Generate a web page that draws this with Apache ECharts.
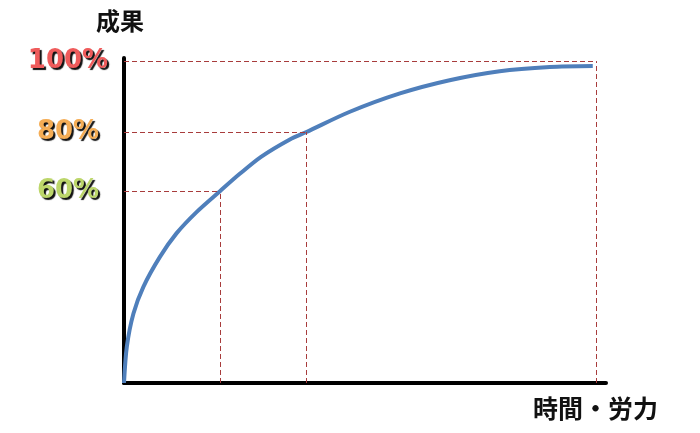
<!DOCTYPE html>
<html>
<head>
<meta charset="utf-8">
<script src="https://cdn.jsdelivr.net/npm/echarts@6/dist/echarts.min.js"></script>
<style>
  html, body { margin: 0; padding: 0; background: #fff; }
  #main { width: 700px; height: 433px; }
</style>
</head>
<body>
<div id="main"></div>
<script>
// curve (x: effort 0-100, y: result 0-100)
var curveX = [0, 0.6, 2, 4.1, 7.6, 11.1, 15.4, 20.3, 24.5, 29, 35.1, 38.6, 47.8, 58.4, 68.9, 79.5, 90.1, 99.2];
var curveY = [0, 11.3, 21.6, 29.9, 39.2, 46.5, 53.2, 59.6, 65, 70.3, 75.7, 78, 84.3, 90, 94.1, 96.9, 98.2, 98.5];

// dashed guides: where each level meets the curve
var guideX = [20.3, 38.6, 100];
var guideY = [59.6, 78, 100];
var tickLabels = ['60%', '80%', '100%'];
var tickColors = ['#bcd66a', '#f5ad55', '#ef5b5b'];

var myChart = echarts.init(document.getElementById('main'));

var points = [];
for (var i = 0; i < curveX.length; i++) {
  points.push([curveX[i], curveY[i]]);
}

var guides = [];
for (var j = 0; j < guideX.length; j++) {
  guides.push([{ coord: [0, guideY[j]] }, { coord: [guideX[j], guideY[j]] }]);
  guides.push([{ coord: [guideX[j], 0] }, { coord: [guideX[j], guideY[j]] }]);
}

var rich = {};
for (var k = 0; k < tickLabels.length; k++) {
  rich['c' + k] = {
    color: tickColors[k],
    fontSize: 26,
    fontWeight: 'bold',
    fontFamily: 'DejaVu Sans',
    textShadowColor: '#111',
    textShadowOffsetX: 2,
    textShadowOffsetY: 2,
    textShadowBlur: 1
  };
}

var option = {
  animation: false,
  grid: { left: 124, right: 94, top: 58, bottom: 50 },
  xAxis: {
    type: 'value',
    min: 0,
    max: 102,
    name: '時間・労力',
    nameLocation: 'end',
    nameGap: 52,
    nameTextStyle: {
      color: '#111',
      fontSize: 25,
      fontWeight: 'bold',
      fontFamily: 'Noto Sans CJK JP',
      align: 'right',
      verticalAlign: 'top',
      padding: [13, 0, 0, 0]
    },
    axisLine: { show: true, lineStyle: { color: '#000', width: 4 } },
    axisTick: { show: false },
    axisLabel: { show: false },
    splitLine: { show: false }
  },
  yAxis: {
    type: 'value',
    min: 0,
    max: 101,
    name: '成果',
    nameLocation: 'end',
    nameGap: 25,
    nameTextStyle: {
      color: '#111',
      fontSize: 24,
      fontWeight: 'bold',
      fontFamily: 'Noto Sans CJK JP',
      align: 'center',
      padding: [0, 8, 0, 0]
    },
    axisLine: { show: true, lineStyle: { color: '#000', width: 4 } },
    axisTick: { show: false },
    splitLine: { show: false },
    axisLabel: {
      show: true,
      customValues: guideY,
      align: 'center',
      margin: 56,
      fontSize: 26,
      fontWeight: 'bold',
      fontFamily: 'DejaVu Sans',
      textShadowColor: '#111',
      textShadowOffsetX: 2,
      textShadowOffsetY: 2,
      textShadowBlur: 1,
      formatter: function (v) {
        var idx = guideY.indexOf(v);
        if (idx < 0) return '';
        return '{c' + idx + '|' + tickLabels[idx] + '}';
      },
      rich: rich
    }
  },
  series: [{
    type: 'line',
    data: points,
    smooth: 0.3,
    showSymbol: false,
    lineStyle: { color: '#4f7fbb', width: 4 },
    markLine: {
      silent: true,
      symbol: 'none',
      label: { show: false },
      lineStyle: { color: '#a83c3c', type: [5, 3], width: 1 },
      data: guides
    }
  }]
};

myChart.setOption(option);
</script>
</body>
</html>
